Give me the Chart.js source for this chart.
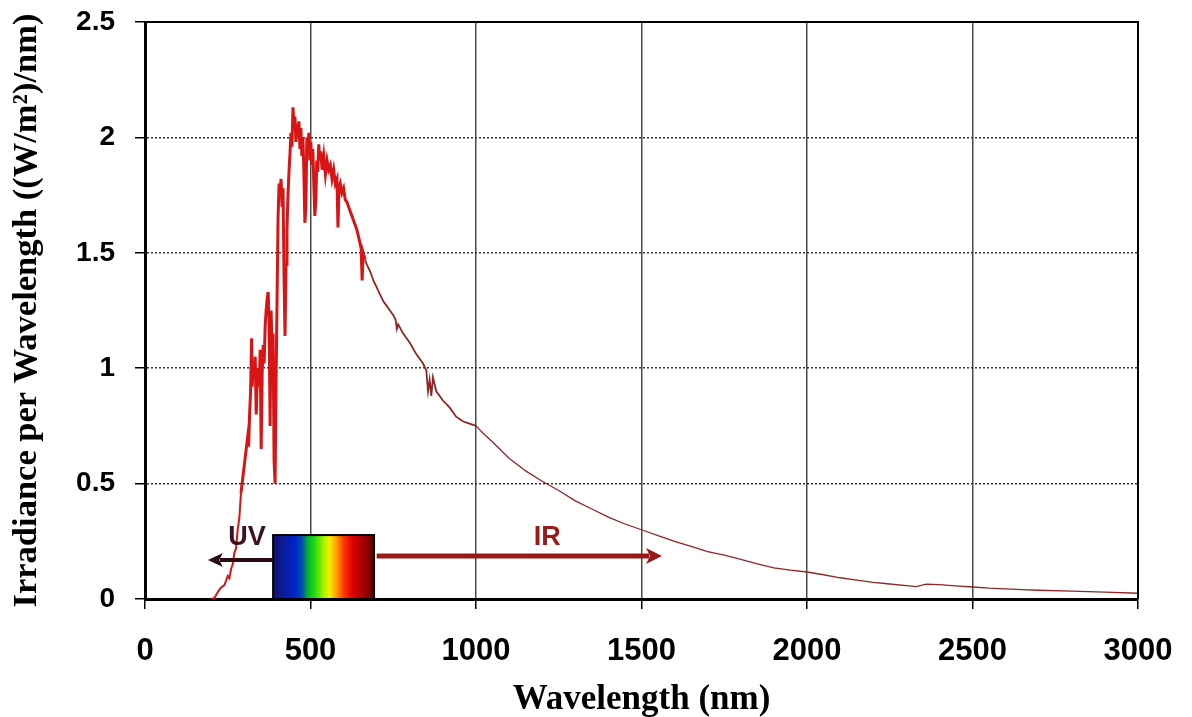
<!DOCTYPE html>
<html><head><meta charset="utf-8">
<script src="https://cdn.jsdelivr.net/npm/chart.js@4.4.0/dist/chart.umd.min.js"></script>
<style>html,body{margin:0;padding:0;background:#fff;overflow:hidden}#wrap{width:1192px;height:717px}</style>
</head><body><div id="wrap"><canvas id="c" width="1192" height="717"></canvas></div>
<script>
// ---- data ----
const wavelengths = [
 200,210,220,230,240,250,255,260,265,270,275,280,285,290,295,300,305,310,313,316,319,322,324,327,330,333,336,339,342,345,348,351,354,357,360,363,366,369,372,375,378,381,384,387,390,393,396,399,
 402,405,408,411,414,417,420,423,426,429,432,435,438,441,444,447,450,453,456,459,462,465,468,471,474,477,480,483,486,489,492,495,498,
 501,504,507,510,513,516,519,522,525,528,531,535,540,545,550,555,560,565,570,575,580,583,586,590,595,600,605,610,615,620,625,630,635,640,645,650,653,656,659,665,670,680,690,700,
 710,720,730,740,750,757,761,765,780,800,820,840,850,855,860,865,870,880,900,920,940,960,980,1000,
 1020,1050,1100,1150,1200,1250,1300,1350,1400,1450,1500,1550,1600,1650,1700,1750,1800,1850,1900,1950,2000,
 2050,2100,2150,2200,2250,2300,2330,2360,2400,2450,2500,2550,2600,2650,2700,2800,2900,3000
];
const irradiance = [
 0,0.005,0.03,0.05,0.06,0.10,0.09,0.13,0.15,0.20,0.22,0.30,0.35,0.46,0.52,0.58,0.64,0.70,0.66,0.80,0.90,1.13,0.92,1.02,0.96,1.05,0.80,0.95,1.00,0.92,1.08,0.65,0.98,1.10,1.02,1.18,1.25,1.30,1.33,1.20,0.75,1.25,1.05,1.15,0.60,0.50,0.95,1.30,
 1.65,1.80,1.76,1.82,1.70,1.78,1.40,1.14,1.45,1.60,1.75,1.85,1.93,2.02,1.96,2.13,2.05,2.09,1.98,2.06,2.00,2.07,1.95,2.04,1.92,2.00,1.85,1.63,1.70,2.00,1.96,2.02,1.90,
 1.98,1.88,1.95,1.80,1.66,1.72,1.90,1.85,1.97,1.90,1.94,1.86,1.92,1.84,1.90,1.86,1.88,1.82,1.86,1.80,1.82,1.61,1.78,1.80,1.76,1.78,1.73,1.72,1.70,1.68,1.66,1.64,1.62,1.60,1.57,1.54,1.52,1.38,1.50,1.47,1.45,1.42,1.38,1.35,
 1.32,1.29,1.27,1.25,1.23,1.21,1.17,1.19,1.15,1.11,1.06,1.02,0.99,0.90,0.95,0.88,0.96,0.90,0.86,0.83,0.79,0.77,0.76,0.75,
 0.72,0.68,0.61,0.555,0.51,0.47,0.425,0.39,0.355,0.325,0.30,0.275,0.25,0.228,0.205,0.19,0.172,0.152,0.135,0.125,0.117,
 0.105,0.092,0.082,0.072,0.065,0.058,0.054,0.064,0.062,0.057,0.052,0.047,0.044,0.041,0.038,0.034,0.030,0.025
];
const xTickValues = [0, 500, 1000, 1500, 2000, 2500, 3000];
const yTickValues = [0, 0.5, 1, 1.5, 2, 2.5];
const xTitle = 'Wavelength (nm)';
const yTitle = 'Irradiance per Wavelength ((W/m\u00B2)/nm)';
const bandLabels = ['UV', 'IR'];
const visibleRange = [387, 692];      // nm covered by the colour box
const visibleBoxTop = 0.277;          // box height in data units
const uvArrow = [387, 190, 0.169];    // from, to (nm), level
const irArrow = [700, 1562, 0.186];
const labelLevel = 0.268;
const uvLabelAt = 308, irLabelAt = 1215;

const points = wavelengths.map((w, i) => ({x: w, y: irradiance[i]}));

const bandsPlugin = {
  id: 'bands',
  afterDatasetsDraw(chart) {
    const {ctx, scales: {x, y}} = chart;
    ctx.save();
    const x0 = x.getPixelForValue(visibleRange[0]), x1 = x.getPixelForValue(visibleRange[1]);
    const yt = y.getPixelForValue(visibleBoxTop), yb = y.getPixelForValue(0);
    const g = ctx.createLinearGradient(x0, 0, x1, 0);
    [[0,'#14106a'],[0.1,'#0a1c9c'],[0.22,'#0024c8'],[0.29,'#0050b0'],[0.34,'#00b030'],[0.42,'#28e010'],
     [0.5,'#a8f000'],[0.56,'#f4f000'],[0.63,'#ff9a00'],[0.7,'#ff3800'],[0.79,'#de0000'],[0.9,'#a00000'],[1,'#5a0000']]
      .forEach(s => g.addColorStop(s[0], s[1]));
    ctx.fillStyle = g;
    ctx.fillRect(x0, yt, x1 - x0, yb - yt);
    ctx.strokeStyle = '#000'; ctx.lineWidth = 2;
    ctx.strokeRect(x0, yt, x1 - x0, yb - yt);

    function arrow(from, to, lvl, color, w, hl, hw) {
      const px0 = x.getPixelForValue(from), px1 = x.getPixelForValue(to), py = y.getPixelForValue(lvl);
      const dir = Math.sign(px1 - px0);
      ctx.strokeStyle = color; ctx.fillStyle = color; ctx.lineWidth = w;
      ctx.beginPath(); ctx.moveTo(px0, py); ctx.lineTo(px1 - dir * hl * 0.8, py); ctx.stroke();
      ctx.beginPath(); ctx.moveTo(px1, py); ctx.lineTo(px1 - dir * hl, py - hw); ctx.lineTo(px1 - dir * hl * 0.75, py); ctx.lineTo(px1 - dir * hl, py + hw); ctx.closePath(); ctx.fill();
    }
    arrow(uvArrow[0], uvArrow[1], uvArrow[2], '#2a0c12', 4, 15, 7);
    arrow(irArrow[0], irArrow[1], irArrow[2], '#9a1a1a', 5, 16, 8);

    ctx.font = 'bold 27px "Liberation Sans", Arial, sans-serif';
    ctx.textAlign = 'center'; ctx.textBaseline = 'middle';
    ctx.fillStyle = '#3a1222';
    ctx.fillText(bandLabels[0], x.getPixelForValue(uvLabelAt), y.getPixelForValue(labelLevel));
    ctx.fillStyle = '#9a1a1a';
    ctx.fillText(bandLabels[1], x.getPixelForValue(irLabelAt), y.getPixelForValue(labelLevel));
    ctx.restore();
  },
  afterDraw(chart) {
    const {ctx, chartArea: a} = chart;
    ctx.save();
    ctx.strokeStyle = '#000'; ctx.lineWidth = 2;
    ctx.beginPath(); ctx.moveTo(a.left, a.top); ctx.lineTo(a.right, a.top); ctx.lineTo(a.right, a.bottom); ctx.stroke();
    ctx.restore();
  }
};

const xTickFont = {family: '"Liberation Sans", Arial, sans-serif', size: 31, weight: 'bold'};
const yTickFont = {family: '"Liberation Sans", Arial, sans-serif', size: 28, weight: 'bold'};
const xTitleFont = {family: '"Liberation Serif", "Times New Roman", serif', size: 35, weight: 'bold', lineHeight: 1};
const yTitleFont = {family: '"Liberation Serif", "Times New Roman", serif', size: 34.5, weight: 'bold', lineHeight: 1};

function clearPad(s) { s.paddingTop = 0; s.paddingBottom = 0; s.paddingLeft = 0; s.paddingRight = 0; }

new Chart(document.getElementById('c'), {
  type: 'line',
  data: {datasets: [{
    data: points,
    borderColor: '#d81414',
    borderWidth: 2,
    pointRadius: 0,
    tension: 0,
    fill: false,
    segment: {
      borderColor: c => c.p0.parsed.x >= 660 ? '#8e2626' : '#d81414',
      borderWidth: c => c.p0.parsed.x >= 1000 ? 1.3 : (c.p0.parsed.x >= 660 ? 1.8 : (c.p0.parsed.x >= 290 ? 3 : 2))
    }
  }]},
  options: {
    responsive: false, animation: false, devicePixelRatio: 1,
    layout: {padding: {top: 22, right: 54, left: 0, bottom: 0}},
    plugins: {legend: {display: false}, tooltip: {enabled: false}},
    scales: {
      x: {
        type: 'linear', min: 0, max: 3000,
        afterBuildTicks: s => { s.ticks = xTickValues.map(v => ({value: v})); },
        afterFit: s => { s.height = 118; clearPad(s); },
        ticks: {font: xTickFont, color: '#000', padding: 24, callback: v => String(v), maxRotation: 0},
        grid: {color: c => (c.tick && (c.tick.value === 0 || c.tick.value === 3000)) ? 'rgba(0,0,0,0)' : '#4a4a4a',
               lineWidth: 1.5, tickLength: 10, tickColor: '#000', tickWidth: 1.5},
        border: {display: true, color: '#000', width: 3},
        title: {display: true, text: xTitle, font: xTitleFont, color: '#000', padding: {top: 0, bottom: 0}}
      },
      y: {
        type: 'linear', min: 0, max: 2.5,
        afterBuildTicks: s => { s.ticks = yTickValues.map(v => ({value: v})); },
        afterFit: s => { s.width = 145; clearPad(s); },
        ticks: {font: yTickFont, color: '#000', padding: 20, callback: v => String(v)},
        grid: {color: c => (c.tick && (c.tick.value === 0 || c.tick.value === 2.5)) ? 'rgba(0,0,0,0)' : '#333',
               lineWidth: 1.5, tickLength: 10, tickColor: '#000', tickWidth: 1.5},
        border: {display: true, color: '#000', width: 3, dash: [2, 2]},
        title: {display: true, text: yTitle, font: yTitleFont, color: '#000', padding: {top: 10, bottom: 0}}
      }
    }
  },
  plugins: [bandsPlugin]
});
</script></body></html>
